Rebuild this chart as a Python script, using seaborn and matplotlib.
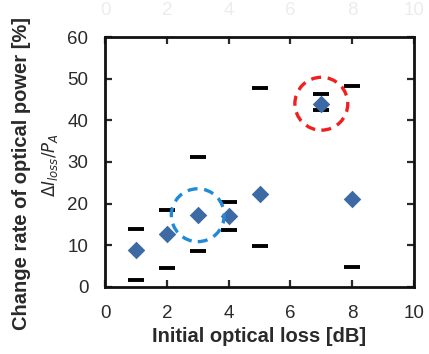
import matplotlib
matplotlib.use("Agg")
import matplotlib.pyplot as plt
import seaborn as sns
import pandas as pd

# Initial optical loss [dB] and change rate statistics [%]
loss_db = [1, 2, 3, 4, 5, 7, 8]
mean_rate = [8.8, 12.6, 17.2, 17.0, 22.3, 44.0, 21.0]
max_rate = [14.0, 18.4, 31.1, 20.4, 47.7, 46.3, 48.2]
min_rate = [1.7, 4.5, 8.5, 13.6, 9.9, 42.5, 4.8]

# Highlighted points
hl_x = [3, 7]
hl_y = [17.2, 44.0]
hl_colors = ["#1f8ad8", "#f02020"]

x_ticks = [0, 2, 4, 6, 8, 10]
y_ticks = [0, 10, 20, 30, 40, 50, 60]

sns.set_theme(style="ticks")
plt.rcParams["font.family"] = ["Liberation Sans", "DejaVu Sans"]

df_mean = pd.DataFrame({"loss": loss_db, "rate": mean_rate})
df_range = pd.DataFrame({"loss": loss_db * 2, "rate": max_rate + min_rate})

fig = plt.figure(figsize=(4.29, 3.54), dpi=100)
ax = fig.add_axes([0.245, 0.19, 0.72, 0.705])

sns.scatterplot(data=df_range, x="loss", y="rate", marker="_", s=130,
                linewidth=2.8, color="black", ax=ax, zorder=3)
sns.scatterplot(data=df_mean, x="loss", y="rate", marker="D", s=80,
                color="#3d6aa5", edgecolor="#3d6aa5", linewidth=0, ax=ax, zorder=4)

for x, y, c in zip(hl_x, hl_y, hl_colors):
    ax.scatter([x], [y], s=1450, facecolors="none", edgecolors=c,
               linewidths=2.4, linestyle=(0, (3.0, 2.0)), zorder=5)

ax.set_xlim(0, 10)
ax.set_ylim(0, 60)
ax.set_xticks(x_ticks)
ax.set_yticks(y_ticks)
ax.tick_params(direction="in", length=5, width=1.6, labelsize=13.5, colors="#2a2a2a",
               top=True, right=True)
ax.tick_params(axis="y", pad=12)
ax.tick_params(axis="x", pad=13, labeltop=True)
# faint labels along the top edge
for tick in ax.xaxis.get_major_ticks():
    tick.label2.set_color("#ececec")
for s in ax.spines.values():
    s.set_linewidth(2.0)
    s.set_color("#111111")

ax.set_xlabel("Initial optical loss [dB]", fontsize=14.5, fontweight="bold",
              color="#2a2a2a", labelpad=4)
ax.set_ylabel("")
fig.text(0.05, 0.51, "Change rate of optical power [%]", rotation=90,
         ha="center", va="center", fontsize=14.5, fontweight="bold", color="#2a2a2a")
fig.text(0.117, 0.535, r"$\Delta I_{loss}/P_A$", rotation=90,
         ha="center", va="center", fontsize=12, color="#2a2a2a")

fig.savefig("out.png", dpi=100)
